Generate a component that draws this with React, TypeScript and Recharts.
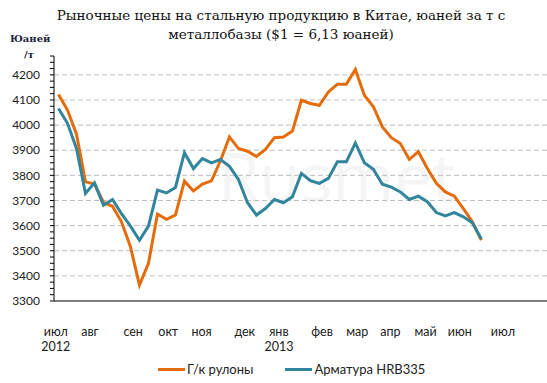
import React from "react";
import { LineChart, Line, XAxis, YAxis, ReferenceLine } from "recharts";

// weekly prices, yuan per tonne (Jul 2012 - Jun 2013)
const hotRolled = [
  4122, 4060, 3964, 3774, 3765, 3692, 3677, 3615, 3516, 3363, 3450, 3646,
  3625, 3642, 3777, 3738, 3765, 3778, 3858, 3953, 3907, 3896, 3875, 3903,
  3950, 3953, 3976, 4099, 4086, 4079, 4132, 4163, 4163, 4221, 4119, 4073,
  3993, 3950, 3927, 3863, 3894, 3827, 3768, 3734, 3717, 3668, 3615, 3542,
];
const rebar = [
  4066, 4007, 3907, 3728, 3770, 3681, 3704, 3648, 3598, 3542, 3598, 3741,
  3730, 3752, 3890, 3827, 3867, 3850, 3863, 3836, 3784, 3692, 3642, 3668,
  3704, 3691, 3715, 3808, 3779, 3768, 3788, 3854, 3854, 3929, 3850, 3824,
  3765, 3753, 3734, 3704, 3717, 3695, 3652, 3639, 3652, 3635, 3611, 3547,
];

const monthNames = ["июл", "авг", "сен", "окт", "ноя", "дек", "янв", "фев", "мар", "апр", "май", "июн", "июл"];
const monthWeeks = [-0.3, 3.5, 8.3, 12.2, 15.9, 20.7, 24.5, 29.3, 33.2, 36.9, 40.8, 44.6, 49.4];
const yearLabels = ["2012", "", "", "", "", "", "2013", "", "", "", "", "", ""];

const yMajor = [3300, 3400, 3500, 3600, 3700, 3800, 3900, 4000, 4100, 4200];
const yTicks = [...yMajor.flatMap((v) => [v, v + 25, v + 50, v + 75])];

const series = [
  { key: "hot", name: "Г/к рулоны", color: "#E46C0A" },
  { key: "rebar", name: "Арматура HRB335", color: "#31859C" },
];

const data = hotRolled.map((v, i) => ({ week: i, hot: v, rebar: rebar[i] }));

const sans = "Lato, 'Liberation Sans', sans-serif";
const serif = "'DejaVu Serif', serif";

const MonthTick = (props: any) => {
  const { x, y, payload } = props;
  const idx = monthWeeks.indexOf(payload.value);
  return (
    <g>
      <text x={x} y={y + 35} textAnchor="middle" fontSize={12.5} fontFamily={sans} fill="#222">
        {monthNames[idx]}
      </text>
      {yearLabels[idx] && (
        <text x={x} y={y + 50} textAnchor="middle" fontSize={12.5} fontFamily={sans} fill="#222">
          {yearLabels[idx]}
        </text>
      )}
    </g>
  );
};

export default function App() {
  return (
    <div style={{ position: "absolute", left: 0, top: 0, width: 547, height: 383, background: "#fff" }}>
      {/* faint watermark */}
      <div
        style={{
          position: "absolute",
          left: 218,
          top: 130,
          fontFamily: "'Open Sans', sans-serif",
          fontSize: 67,
          color: "#f5f5f5",
        }}
      >
        Rusmet
      </div>
      <div
        style={{
          position: "absolute",
          left: 0,
          top: 6,
          width: 562,
          textAlign: "center",
          fontFamily: serif,
          fontSize: 13.5,
          lineHeight: "19px",
          color: "#111",
        }}
      >
        Рыночные цены на стальную продукцию в Китае, юаней за т с
        <br />
        металлобазы ($1 = 6,13 юаней)
      </div>
      <div
        style={{
          position: "absolute",
          left: 10,
          top: 31,
          fontFamily: serif,
          fontWeight: "bold",
          fontSize: 10,
          lineHeight: "16px",
          color: "#1F1F3F",
        }}
      >
        Юаней
        <div style={{ paddingLeft: 14 }}>/т</div>
      </div>

      <LineChart
        width={547}
        height={383}
        data={data}
        margin={{ top: 56, right: 0, bottom: 32, left: 0 }}
        style={{ position: "absolute", left: 0, top: 0 }}
      >
        {yMajor.slice(1).map((v) => (
          <ReferenceLine key={v} y={v} stroke="#bdbdbd" strokeDasharray="5 3" />
        ))}
        <XAxis
          type="number"
          dataKey="week"
          domain={[-0.5, 54.3]}
          allowDataOverflow
          ticks={monthWeeks}
          interval={0}
          height={50}
          tickLine={false}
          tickSize={0}
          tickMargin={0}
          axisLine={{ stroke: "#000" }}
          tick={<MonthTick />}
        />
        <YAxis
          type="number"
          domain={[3300, 4275]}
          allowDataOverflow
          ticks={yTicks}
          interval={0}
          width={54}
          tickSize={4}
          tickMargin={10}
          axisLine={{ stroke: "#000" }}
          tickLine={{ stroke: "#000" }}
          tickFormatter={(v: number) => (v % 100 === 0 ? String(v) : "")}
          tick={{ fill: "#222", fontSize: 12, fontFamily: sans }}
        />
        {series.map((s) => (
          <Line
            key={s.key}
            type="linear"
            dataKey={s.key}
            name={s.name}
            stroke={s.color}
            strokeWidth={3}
            dot={false}
            isAnimationActive={false}
          />
        ))}
      </LineChart>

      <div
        style={{
          position: "absolute",
          left: 158,
          top: 361,
          display: "flex",
          alignItems: "center",
          fontFamily: sans,
          fontSize: 13,
          color: "#222",
        }}
      >
        {series.map((s, i) => (
          <div key={s.key} style={{ display: "flex", alignItems: "center", marginRight: i === 0 ? 32 : 0 }}>
            <span style={{ display: "inline-block", width: 27, height: 3, background: s.color, marginRight: 2 }} />
            <span>{s.name}</span>
          </div>
        ))}
      </div>
    </div>
  );
}
